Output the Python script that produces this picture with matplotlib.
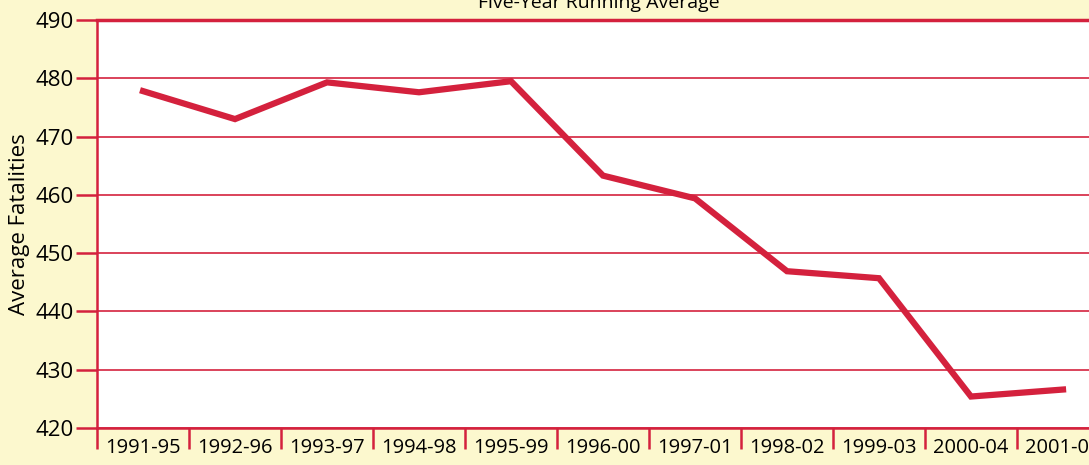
import numpy as np
import matplotlib.pyplot as plt

# Five-year running average of fatalities
periods = ["1991-95", "1992-96", "1993-97", "1994-98", "1995-99", "1996-00",
           "1997-01", "1998-02", "1999-03", "2000-04", "2001-05"]
avg_fatalities = [477.8, 473.0, 479.3, 477.6, 479.5, 463.3,
                  459.4, 446.9, 445.7, 425.4, 426.6]
y_ticks = [420, 430, 440, 450, 460, 470, 480, 490]

red = "#D4213D"
cream = "#FCF8CE"
plt.rcParams['font.family'] = ['Open Sans', 'DejaVu Sans']

fig = plt.figure(figsize=(10.89, 4.65), dpi=100, facecolor=cream)
# plot area runs past the right edge of the picture, as in the reference
ax = fig.add_axes([97 / 1089, 37 / 465, 1012 / 1089, 408 / 465])
ax.set_facecolor("white")

x = np.arange(len(periods))
ax.plot(x, avg_fatalities, color=red, linewidth=4.5, solid_joinstyle="miter", zorder=3)

ax.set_xlim(-0.5, len(periods) - 0.5)
ax.set_ylim(420, 490)
ax.set_yticks(y_ticks)
ax.set_yticklabels([str(v) for v in y_ticks], fontsize=16)
ax.set_xticks(x)
ax.set_xticklabels(periods, fontsize=14.5)
ax.set_xticks(np.arange(len(periods) + 1) - 0.5, minor=True)

ax.tick_params(axis="x", which="major", length=0, pad=7)
ax.tick_params(axis="x", which="minor", length=15, width=1.8, color=red)
ax.tick_params(axis="y", which="major", length=15, width=1.8, color=red, pad=2)

ax.grid(axis="y", color=red, linewidth=1.4, alpha=0.85)
ax.set_axisbelow(True)
for side in ["left", "bottom", "right"]:
    ax.spines[side].set_color(red)
    ax.spines[side].set_linewidth(1.8)
ax.spines["top"].set_color(red)
ax.spines["top"].set_linewidth(2.5)

ax.set_ylabel("Average Fatalities", fontsize=16, labelpad=4)
fig.text(0.55, 1 - 8 / 465, "Five-Year Running Average", ha="center",
         va="baseline", fontsize=14)

fig.savefig("out.png", dpi=100, facecolor=cream)
